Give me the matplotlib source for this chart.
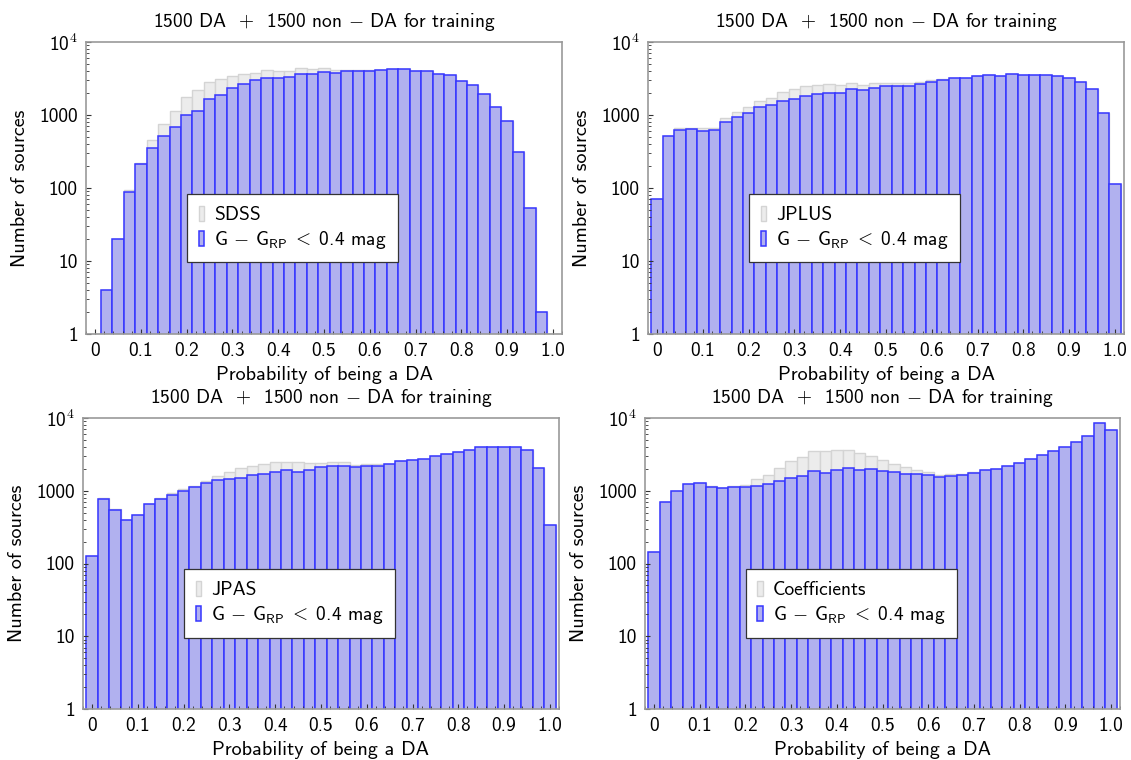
import numpy as np
import matplotlib
matplotlib.use("Agg")
import matplotlib.pyplot as plt
from matplotlib.ticker import FixedLocator, AutoMinorLocator, LogLocator, NullFormatter

plt.rcParams['font.family'] = ['cmss10', 'DejaVu Sans']
plt.rcParams['mathtext.fontset'] = 'cm'
plt.rcParams['axes.unicode_minus'] = False

# bin centres of the probability histograms
prob = np.linspace(0, 1, 41)

# counts (grey = full sample, blue = G - G_RP < 0.4)
sdss_all = [0, 4, 20, 93, 222, 449, 745, 1136, 1787, 2208, 2812, 3096, 3437, 3660, 3740, 4070, 3950, 4030,
            4385, 4250, 4385, 4160, 4070, 4070, 4070, 4160, 4250, 4250, 4030, 4030, 3700, 3480, 2940, 2610,
            1950, 1300, 828, 314, 53, 2, 0]
sdss_blue = [0, 4, 20, 88, 210, 349, 515, 685, 990, 1150, 1640, 1900, 2350, 2640, 3000, 3200, 3200, 3330,
             3660, 3660, 3860, 3780, 3950, 3950, 4030, 4160, 4250, 4250, 4030, 4030, 3700, 3480, 2940, 2610,
             1950, 1300, 828, 314, 53, 2, 0]

jplus_all = [71, 522, 663, 660, 656, 670, 911, 1089, 1289, 1575, 1714, 2051, 2255, 2506, 2610, 2640, 2580,
             2755, 2560, 2720, 2755, 2755, 2780, 2875, 3030, 3100, 3200, 3250, 3370, 3480, 3400, 3626, 3480,
             3520, 3520, 3370, 3200, 2875, 2255, 1067, 114]
jplus_blue = [71, 515, 623, 643, 604, 630, 811, 930, 1055, 1276, 1388, 1559, 1679, 1827, 1925, 1987, 1987,
              2280, 2185, 2352, 2480, 2480, 2530, 2670, 2845, 3030, 3180, 3250, 3370, 3480, 3400, 3626, 3480,
              3520, 3520, 3370, 3200, 2875, 2255, 1067, 114]

jpas_all = [125, 790, 567, 400, 469, 656, 790, 940, 1067, 1150, 1345, 1575, 1807, 2073, 2208, 2352, 2455,
            2455, 2508, 2380, 2400, 2455, 2455, 2280, 2300, 2300, 2352, 2533, 2641, 2728, 3030, 3163, 3401,
            3588, 3986, 3986, 3986, 3986, 3588, 2051, 334]
jpas_blue = [125, 777, 549, 396, 469, 656, 769, 873, 990, 1125, 1262, 1388, 1463, 1511, 1643, 1714, 1787,
             1905, 1830, 1946, 2094, 2162, 2162, 2115, 2208, 2208, 2352, 2533, 2641, 2728, 3030, 3163, 3401,
             3588, 3986, 3986, 3986, 3986, 3588, 2051, 334]

coef_all = [142, 692, 1000, 1236, 1290, 1150, 1100, 1150, 1200, 1463, 1660, 2029, 2533, 2875, 3480, 3480,
            3626, 3626, 3297, 3000, 2670, 2303, 2117, 1905, 1810, 1660, 1690, 1714, 1790, 1946, 1990, 2185,
            2377, 2755, 3127, 3548, 3946, 4720, 5705, 8510, 6900]
coef_blue = [142, 692, 1000, 1236, 1262, 1112, 1089, 1125, 1112, 1173, 1236, 1374, 1494, 1592, 1866, 1770,
             1946, 2029, 1930, 1990, 1890, 1790, 1714, 1679, 1643, 1543, 1592, 1643, 1750, 1946, 1990, 2185,
             2377, 2755, 3127, 3548, 3946, 4720, 5705, 8510, 6900]

names = ["SDSS", "JPLUS", "JPAS", "Coefficients"]
all_counts = [sdss_all, jplus_all, jpas_all, coef_all]
blue_counts = [sdss_blue, jplus_blue, jpas_blue, coef_blue]

ytick_vals = [1, 10, 100, 1000, 10000]
ytick_labels = ["1", "10", "100", "1000", r"10$^{\mathsf{4}}$"]
xtick_vals = [0, 0.1, 0.2, 0.3, 0.4, 0.5, 0.6, 0.7, 0.8, 0.9, 1.0]
xtick_labels = ["0", "0.1", "0.2", "0.3", "0.4", "0.5", "0.6", "0.7", "0.8", "0.9", "1.0"]

title = r"1500 DA  $+$  1500 non $-$ DA for training"
cut_label = r"G $-$ G$_{\mathsf{RP}}\;<\;$0.4 mag"

W, H = 1131, 760
fig = plt.figure(figsize=(W / 100, H / 100), dpi=100)

# axes boxes in pixels: left, top, right, bottom
boxes = [(86, 42, 562, 334), (648, 42, 1124, 334), (83, 418, 559, 709), (645, 418, 1120, 709)]

edges = np.append(prob - 0.0125, prob[-1] + 0.0125)

for k in range(4):
    l, t, r, b = boxes[k]
    ax = fig.add_axes([l / W, 1 - b / H, (r - l) / W, (b - t) / H])
    ax.hist(prob, bins=edges, weights=all_counts[k], facecolor="#ececec",
            edgecolor="#d4d4d4", linewidth=1.0, label=names[k])
    ax.hist(prob, bins=edges, weights=blue_counts[k], facecolor="#b1b1ef",
            edgecolor="#3636ff", linewidth=1.1, label=cut_label)
    ax.set_yscale("log")
    ax.set_ylim(1, 1e4)
    ax.set_xlim(-0.02, 1.02)

    ax.yaxis.set_major_locator(FixedLocator(ytick_vals))
    ax.set_yticklabels(ytick_labels)
    ax.yaxis.set_minor_locator(LogLocator(base=10, subs=np.arange(2, 10)))
    ax.yaxis.set_minor_formatter(NullFormatter())
    ax.set_xticks(xtick_vals)
    ax.set_xticklabels(xtick_labels)
    ax.xaxis.set_minor_locator(AutoMinorLocator(5))

    ax.tick_params(which="both", direction="in", color="#333333", labelsize=14, pad=6)
    ax.tick_params(which="major", length=3.5, width=0.8)
    ax.tick_params(which="minor", length=2, width=0.6)
    for s in ax.spines.values():
        s.set_color("#999999")
        s.set_linewidth(1.2)

    ax.set_title(title, fontsize=14, pad=11)
    ax.set_xlabel("Probability of being a DA", fontsize=14.5, labelpad=4)
    ax.set_ylabel("Number of sources", fontsize=14.5, labelpad=7)

    leg = ax.legend(loc="center left", bbox_to_anchor=(0.212, 0.362), fontsize=14,
                    handlelength=0.3, handleheight=0.8, handletextpad=0.5,
                    borderpad=0.6, borderaxespad=0.0, labelspacing=0.25,
                    fancybox=False, framealpha=1)
    leg.get_frame().set_edgecolor("#333333")
    leg.get_frame().set_linewidth(0.9)

fig.savefig("out.png", dpi=100)
